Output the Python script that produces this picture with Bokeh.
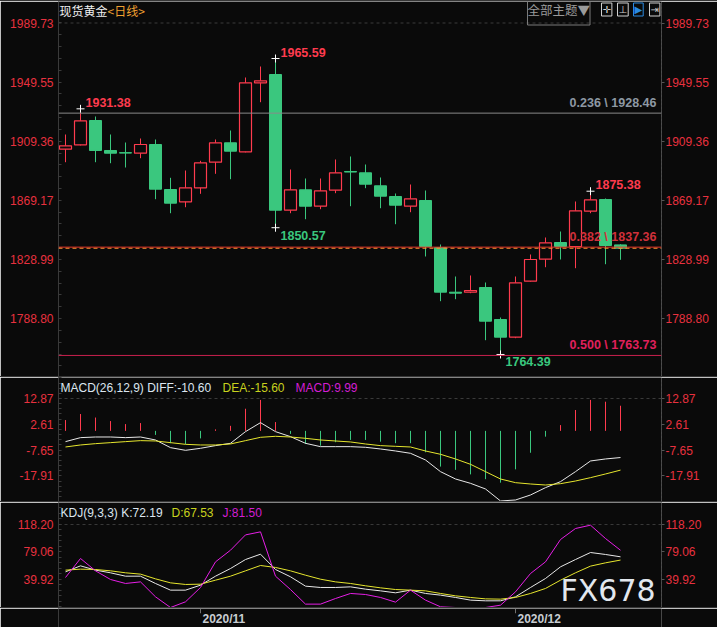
import pandas as pd
from bokeh.plotting import figure
from bokeh.models import (Range1d, LinearAxis, FixedTicker, PrintfTickFormatter,
                          Span, Label, ColumnDataSource, Spacer)
from bokeh.layouts import column
from bokeh.core.properties import value
from bokeh.embed import file_html
from bokeh.resources import INLINE

# ---------------- spot gold, daily bars 2020-10-20 .. 2020-12-10 ----------------
dates = pd.bdate_range("2020-10-20", "2020-12-10")

open_ = [1903.94, 1906.93, 1923.45, 1903.06, 1901.60, 1901.22, 1907.13, 1876.54, 1868.18, 1877.70,
         1895.10, 1908.29, 1902.17, 1949.08, 1954.72, 1862.47, 1876.34, 1865.19, 1876.07, 1888.80,
         1887.90, 1879.06, 1871.78, 1865.19, 1869.07, 1837.11, 1806.73, 1806.73, 1809.92, 1788.17,
         1776.14, 1814.21, 1829.16, 1840.51, 1837.79, 1861.79, 1869.75, 1838.90]
high = [1913.93, 1931.38, 1926.17, 1913.93, 1908.49, 1911.21, 1910.53, 1884.50, 1889.46, 1896.05,
        1910.53, 1916.65, 1952.68, 1960.16, 1965.59, 1890.14, 1884.02, 1884.02, 1896.94, 1898.98,
        1893.54, 1884.70, 1873.82, 1879.94, 1875.86, 1839.15, 1817.40, 1818.08, 1813.32, 1789.53,
        1817.40, 1832.36, 1843.91, 1847.99, 1868.39, 1875.38, 1870.43, 1839.30]
low = [1895.10, 1906.50, 1895.10, 1894.42, 1891.50, 1897.82, 1869.95, 1860.43, 1864.51, 1873.62,
       1887.22, 1883.55, 1901.80, 1935.89, 1850.57, 1860.43, 1856.35, 1863.15, 1874.03, 1865.19,
       1877.43, 1863.83, 1852.95, 1861.11, 1831.00, 1800.61, 1801.97, 1806.05, 1774.10, 1764.39,
       1775.46, 1813.90, 1823.72, 1828.96, 1823.04, 1860.43, 1825.76, 1828.75]
close = [1906.25, 1923.25, 1903.06, 1901.22, 1901.30, 1907.13, 1876.75, 1867.23, 1877.70, 1894.69,
         1908.29, 1902.58, 1949.08, 1950.44, 1862.47, 1876.34, 1865.19, 1875.66, 1887.90, 1888.40,
         1880.15, 1871.99, 1865.87, 1870.22, 1837.79, 1806.73, 1806.05, 1807.88, 1787.01, 1776.14,
         1813.12, 1828.96, 1840.31, 1837.79, 1862.06, 1869.54, 1838.47, 1836.60]

# MACD(26,12,9)
diff = [-4.28, -2.69, -2.43, -2.43, -2.69, -2.43, -3.62, -6.67, -7.73, -6.93,
        -5.86, -4.94, -0.31, 3.27, -0.31, -2.29, -4.94, -6.27, -6.27, -6.27,
        -6.53, -7.20, -7.99, -8.92, -11.57, -16.21, -19.13, -20.85, -23.10, -27.87,
        -27.48, -25.49, -22.57, -20.19, -16.21, -11.97, -11.17, -10.60]
dea = [-6.40, -5.61, -5.08, -4.68, -4.28, -3.88, -4.02, -4.68, -5.35, -5.61,
       -5.61, -5.21, -3.88, -2.56, -2.16, -2.43, -2.96, -3.62, -4.02, -4.41,
       -5.21, -5.87, -6.14, -6.40, -7.99, -9.31, -11.17, -13.29, -16.21, -19.13,
       -20.59, -21.12, -21.52, -20.99, -19.93, -18.60, -17.14, -15.60]
macd = [4.3, 6.7, 5.3, 3.9, 2.7, 3.1, -1.6, -4.9, -5.3, -3.0,
        0.6, 2.0, 8.8, 12.3, 3.5, -1.2, -5.2, -5.9, -4.5, -3.6,
        -3.6, -4.3, -4.9, -4.9, -8.5, -14.2, -15.5, -17.3, -19.2, -20.6,
        -15.3, -8.7, -2.3, 2.3, 8.3, 12.3, 11.6, 9.99]

# KDJ(9,3,3)
kdj_k = [50.8, 59.3, 53.2, 49.4, 44.6, 44.6, 34.2, 24.7, 24.7, 31.8,
         44.6, 55.5, 68.3, 75.9, 54.1, 43.7, 30.4, 28.5, 28.5, 29.4,
         26.1, 23.7, 20.9, 24.7, 20.0, 17.6, 14.3, 10.5, 9.5, 9.5,
         15.2, 28.5, 41.3, 57.9, 68.3, 78.3, 75.5, 72.19]
kdj_d = [53.2, 54.6, 54.1, 52.2, 49.4, 47.5, 40.8, 35.1, 32.8, 33.2,
         38.9, 44.6, 52.2, 59.8, 57.0, 52.2, 46.0, 40.3, 36.5, 34.2,
         30.9, 28.0, 25.6, 24.7, 23.7, 20.0, 16.6, 14.3, 12.3, 11.9,
         14.3, 20.0, 27.1, 38.9, 49.4, 58.9, 63.6, 67.53]
kdj_j = [42.7, 69.8, 52.2, 39.9, 34.2, 36.5, 15.2, 0.0, 8.1, 28.5,
         65.0, 81.6, 103.4, 107.7, 44.6, 25.6, 4.8, 4.8, 12.8, 20.0,
         18.5, 14.3, 7.6, 24.7, 10.5, 1.0, 0.0, 0.0, 0.0, 3.3,
         22.3, 48.4, 65.0, 96.8, 112.5, 117.2, 98.2, 81.50]

price_ticks = [1788.80, 1828.99, 1869.17, 1909.36, 1949.55, 1989.73]
macd_ticks = [-17.91, -7.65, 2.61, 12.87]
kdj_ticks = [39.92, 79.06, 118.20]

fib_ratios = [0.236, 0.382, 0.500]
fib_levels = [1928.46, 1837.36, 1763.73]

# bars whose extreme gets a value tag
tag_highs = [1, 14, 35]
tag_lows = [14, 29]

# ---------------- styling ----------------
BG = "#0a0a0a"
UP = "#ff3b4e"
DOWN = "#3ac77e"
AX_TXT = "#e8313f"
AX_LINE = "#3a3a3a"
SEP = "#363636"
FONT = "Liberation Sans"
CJK = "Noto Sans CJK SC"
W, LB, RB = 717, 58, 56

n = len(close)
idx = list(range(n))
# 15 px per bar; half-pixel shift keeps 1 px strokes crisp
xr = Range1d(-0.5 + 0.5 / 15, 39.7 + 0.5 / 15)


def panel(h, y0, y1):
    p = figure(width=W, height=h, x_range=xr, y_range=Range1d(y0, y1),
               output_backend="svg", toolbar_location=None,
               x_axis_location=None, y_axis_location=None,
               min_border_left=LB, min_border_right=RB,
               min_border_top=0, min_border_bottom=0,
               background_fill_color=BG, border_fill_color=BG,
               outline_line_color=None)
    p.xgrid.visible = False
    p.ygrid.visible = False
    return p


def add_axes(p, ticks):
    step = (ticks[1] - ticks[0]) / 5.0
    minor = [ticks[0] + step * i for i in range(-10, 5 * len(ticks) + 10)]
    for side in ("left", "right"):
        ax = LinearAxis(ticker=FixedTicker(ticks=ticks, minor_ticks=minor),
                        formatter=PrintfTickFormatter(format="%.2f"))
        ax.major_label_text_color = AX_TXT
        ax.major_label_text_font = FONT
        ax.major_label_text_font_size = "12px"
        ax.axis_line_color = AX_LINE
        ax.major_tick_line_color = "#555555"
        ax.minor_tick_line_color = AX_LINE
        if side == "left":
            ax.major_tick_in = 0
            ax.major_tick_out = 0
            ax.minor_tick_in = 3
            ax.minor_tick_out = 0
            ax.major_label_standoff = 5
        else:
            ax.axis_line_dash = "1 3"
            ax.axis_line_color = "#555555"
            ax.major_tick_in = 0
            ax.major_tick_out = 3
            ax.minor_tick_in = 0
            ax.minor_tick_out = 0
            ax.major_label_standoff = 1
        p.add_layout(ax, side)
    p.add_layout(Span(location=max(ticks), dimension="width", line_color="#3a3a3a",
                      line_dash="3 3", line_width=1))


def sep():
    return Spacer(width=W, height=1, styles={"background-color": SEP})


# ---------------- price panel ----------------
main = panel(375, 1749.42, 2004.35)
add_axes(main, price_ticks)

is_up = [c >= o for o, c in zip(open_, close)]
wick = ColumnDataSource(dict(x=idx, high=high, low=low,
                             color=[UP if u else DOWN for u in is_up]))
main.segment(x0="x", y0="high", x1="x", y1="low", color="color", line_width=1, source=wick)

up_src = ColumnDataSource(dict(
    x=[i for i in idx if is_up[i]],
    top=[close[i] for i in idx if is_up[i]],
    bottom=[open_[i] for i in idx if is_up[i]]))
dn_src = ColumnDataSource(dict(
    x=[i for i in idx if not is_up[i]],
    top=[open_[i] for i in idx if not is_up[i]],
    bottom=[close[i] for i in idx if not is_up[i]]))
main.vbar(x="x", top="top", bottom="bottom", width=0.8, fill_color=BG,
          line_color=UP, line_width=1.2, source=up_src)
main.vbar(x="x", top="top", bottom="bottom", width=0.8, fill_color=DOWN,
          line_color=DOWN, line_width=1, source=dn_src)

# fibonacci levels
fib_line = ["#8a8a8a", "#e8362a", "#c8204e"]
fib_text = ["#8d98a3", "#d0303a", "#e0205c"]
for r, lv, lc, tc in zip(fib_ratios, fib_levels, fib_line, fib_text):
    main.add_layout(Span(location=lv, dimension="width", line_color=lc, line_width=1))
    main.text(x=[xr.end], y=[lv], text=[f"{r:.3f} \\ {lv:.2f}"], x_offset=-5, y_offset=-3,
              text_align="right", text_baseline="bottom", text_color=tc,
              text_font=value(FONT), text_font_style="bold", text_font_size="12.5px")

# last price line
main.add_layout(Span(location=close[-1], dimension="width", line_color="#ff9030",
                     line_dash="4 3", line_width=1))

# extreme tags
hx = tag_highs
hy = [high[i] for i in hx]
lx = tag_lows
ly = [low[i] for i in lx]
main.scatter(hx + lx, hy + ly, marker="cross", size=8, line_color="white", line_width=1)
main.text(x=hx, y=hy, text=[f"{v:.2f}" for v in hy], x_offset=5, y_offset=-2,
          text_align="left", text_baseline="bottom", text_color=UP,
          text_font=value(FONT), text_font_style="bold", text_font_size="12.5px")
main.text(x=lx, y=ly, text=[f"{v:.2f}" for v in ly], x_offset=5, y_offset=3,
          text_align="left", text_baseline="top", text_color=DOWN,
          text_font=value(FONT), text_font_style="bold", text_font_size="12.5px")

# header
main.add_layout(Label(x=1, y=366, x_units="screen", y_units="screen", text="现货黄金",
                      text_color="#f0f0f0", text_font=CJK, text_font_size="12px",
                      text_baseline="middle"))
main.add_layout(Label(x=49, y=366, x_units="screen", y_units="screen", text="<日线>",
                      text_color="#f0a030", text_font=CJK, text_font_size="12px",
                      text_baseline="middle"))

# toolbar widgets, top right
main.add_layout(Label(x=469, y=367, x_units="screen", y_units="screen", text="全部主题▼",
                      text_color="#9a9a9a", text_font=CJK, text_font_size="12.5px",
                      text_baseline="middle", border_line_color="#7a7a7a",
                      padding=(0, 6)))
for k, (sym, col) in enumerate([("✛", "#d0d0d0"), ("⊥", "#d0d0d0"),
                                ("▶", "#2a8ae0"), ("⇥", "#d0d0d0")]):
    main.add_layout(Label(x=543 + 16 * k, y=367, x_units="screen", y_units="screen",
                          text=sym, text_color=col, text_font="DejaVu Sans",
                          text_font_size="10px", text_baseline="middle",
                          border_line_color=col, padding=1))

# ---------------- MACD panel ----------------
pm = panel(124, -28.08, 21.22)
add_axes(pm, macd_ticks)
pm.segment(x0=idx, y0=0, x1=idx, y1=macd,
           color=[UP if v >= 0 else DOWN for v in macd], line_width=1)
pm.line(idx, diff, color="#e8e8e8", line_width=1)
pm.line(idx, dea, color="#e6e62e", line_width=1)
for x, txt, col in [(2, f"MACD(26,12,9) DIFF:{diff[-1]:.2f}", "#dce6f0"),
                    (164, f"DEA:{dea[-1]:.2f}", "#c8d21e"),
                    (237, f"MACD:{macd[-1]:.2f}", "#d21ed2")]:
    pm.add_layout(Label(x=x, y=114, x_units="screen", y_units="screen", text=txt,
                        text_color=col, text_font=FONT, text_font_size="12px",
                        text_baseline="middle"))

# ---------------- KDJ panel ----------------
pk = panel(105, 0.0, 149.5)
add_axes(pk, kdj_ticks)
pk.line(idx, kdj_k, color="#e8e8e8", line_width=1)
pk.line(idx, kdj_d, color="#e6e62e", line_width=1)
pk.line(idx, kdj_j, color="#e61ee6", line_width=1)
for x, txt, col in [(2, f"KDJ(9,3,3) K:{kdj_k[-1]:.2f}", "#dce6f0"),
                    (113, f"D:{kdj_d[-1]:.2f}", "#c8d21e"),
                    (164, f"J:{kdj_j[-1]:.2f}", "#d21ed2")]:
    pk.add_layout(Label(x=x, y=95, x_units="screen", y_units="screen", text=txt,
                        text_color=col, text_font=FONT, text_font_size="12px",
                        text_baseline="middle"))
pk.add_layout(Label(x=502, y=17, x_units="screen", y_units="screen", text="FX678",
                    text_color="#e2e7ee", text_font="DejaVu Sans", text_font_size="30px",
                    text_baseline="middle"))

# ---------------- date strip ----------------
pb = panel(19, 0, 1)
edge = LinearAxis(ticker=FixedTicker(ticks=[]), axis_line_color=AX_LINE)
pb.add_layout(edge, "left")
month_idx = [i for i in range(1, n) if dates[i].month != dates[i - 1].month]
month_lab = [dates[i].strftime("%Y/%m") for i in month_idx]
pb.segment(x0=month_idx, y0=1, x1=month_idx, y1=0.75, color="#707070", line_width=1)
pb.text(x=month_idx, y=[0.45] * len(month_idx), text=month_lab, x_offset=2,
        text_align="left", text_baseline="middle", text_color="#c8cdd2",
        text_font=value(FONT), text_font_style="bold", text_font_size="12px")
pb.add_layout(Label(x=-56, y=0.5, x_units="screen", y_units="data", text="日线 ▲",
                    text_color="#e8a040", text_font=CJK, text_font_size="12.5px",
                    text_baseline="middle"))

layout = column(sep(), main, sep(), pm, sep(), pk, sep(), pb)
open("out.html", "w").write(file_html(layout, INLINE))
